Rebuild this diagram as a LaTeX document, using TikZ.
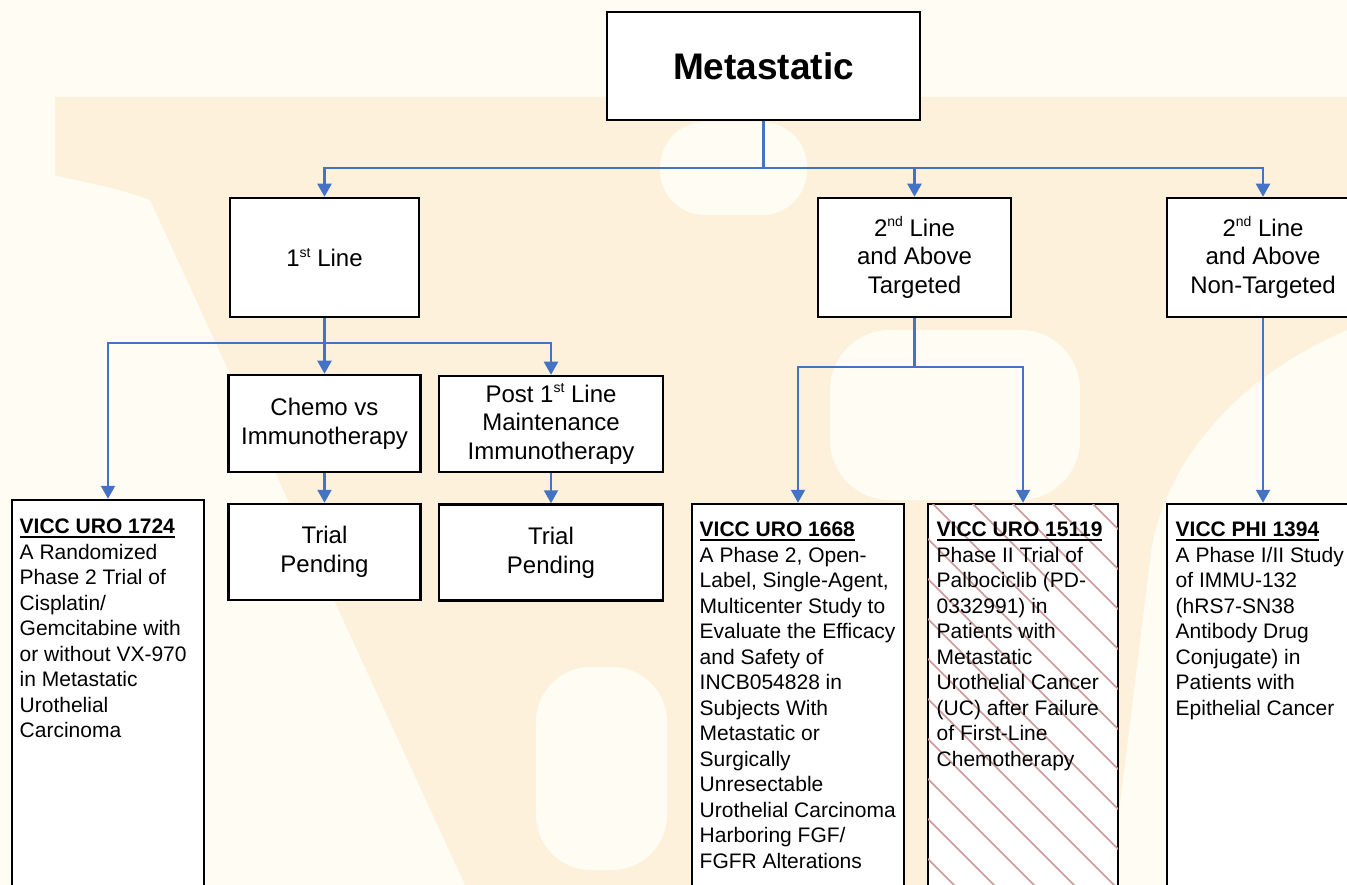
\documentclass[tikz,border=0pt]{standalone}
\usepackage{fontspec}
\setmainfont{Liberation Sans}
\usetikzlibrary{arrows.meta,calc}
\definecolor{connc}{HTML}{4472C4}
\definecolor{bgcream}{HTML}{FFFCF3}
\definecolor{wmark}{HTML}{FDF1DC}
\definecolor{hatchc}{HTML}{CC9A98}
\newcommand\myul[1]{\setbox0\hbox{#1}\rlap{\rule[-4.3pt]{\wd0}{1.8pt}}\box0}
\newcommand\sps[1]{\raisebox{9.5pt}{\fontsize{14}{14}\selectfont #1}}
\begin{document}
\begin{tikzpicture}[x=1pt,y=-1pt,
  bx/.style={draw=black,line width=2.5pt,fill=white,inner sep=0pt},
  catbox/.style={bx,align=center,font=\fontsize{24}{28.7}\selectfont},
  trialbox/.style={bx,minimum height=420pt},
  ttext/.style={anchor=north west,inner sep=0pt,align=left,font=\fontsize{21}{25.5}\selectfont},
  link/.style={draw=connc,line width=2.2pt,-{Triangle[length=13pt,width=14pt]}},
  seg/.style={draw=connc,line width=2.2pt},
  hatch/.style={draw=hatchc,line width=1.5pt}]
\useasboundingbox (0,0) rectangle (1347,885);
% background and watermark
\fill[bgcream] (0,0) rectangle (1347,885);
\fill[wmark] (55,97) -- (1347,97) -- (1347,330) .. controls (1230,380) and (1160,470) .. (1150,560) -- (1110,885) -- (465,885) -- (150,200) .. controls (110,185) and (70,180) .. (55,175) -- cycle;
\fill[bgcream,rounded corners=45pt] (660,122) -- (807,122) -- (807,215) -- (660,215) -- cycle;
\fill[bgcream,rounded corners=60pt] (830,330) -- (1080,330) -- (1080,500) -- (830,500) -- cycle;
\fill[bgcream,rounded corners=55pt] (536,667) -- (667,667) -- (667,870) -- (536,870) -- cycle;
% boxes
\node[catbox,minimum width=313pt,minimum height=108pt,font=\bfseries\fontsize{37}{44}\selectfont] (meta) at (763.5,66) {Metastatic};
\node[catbox,minimum width=189pt,minimum height=119pt] (l1) at (324.5,257.5) {1\sps{st} Line};
\node[catbox,minimum width=193pt,minimum height=119pt] (l2t) at (914.5,257.5) {2\sps{nd} Line\\and Above\\Targeted};
\node[catbox,minimum width=192pt,minimum height=119pt] (l2n) at (1263,257.5) {2\sps{nd} Line\\and Above\\Non-Targeted};
\node[catbox,minimum width=192pt,minimum height=97pt] (chemo) at (324.5,423.5) {Chemo vs\\Immunotherapy};
\node[catbox,minimum width=224pt,minimum height=96pt] (post) at (551,424) {Post 1\sps{st} Line\\Maintenance\\Immunotherapy};
\node[catbox,minimum width=192pt,minimum height=96pt] (tp1) at (324.5,552) {Trial\\Pending};
\node[catbox,minimum width=224pt,minimum height=96pt] (tp2) at (551,552.5) {Trial\\Pending};
\node[trialbox,minimum width=192pt] (u1724) at (108,710) {};
\node[trialbox,minimum width=212pt] (u1668) at (798,714) {};
\node[trialbox,minimum width=190pt] (u15119) at (1023,714) {};
\node[trialbox,minimum width=192pt] (p1394) at (1263,714) {};
% hatching
\begin{scope}
\clip ($(u15119.north west)+(1.25,1.25)$) rectangle ($(u15119.south east)+(-1.25,-1.25)$);
\foreach \k in {-12,...,6} \draw[hatch] ($(u15119.north west)+(\k*40+5,0)$) -- ++(600,600);
\end{scope}
% trial texts
\node[ttext] (u1724t) at (19.5,519) {\myul{\textbf{VICC URO 1724}}\\A Randomized\\Phase 2 Trial of\\Cisplatin/\\Gemcitabine with\\or without VX-970\\in Metastatic\\Urothelial\\Carcinoma};
\node[ttext] (u1668t) at (699.5,522) {\myul{\textbf{VICC URO 1668}}\\A Phase 2, Open-\\Label, Single-Agent,\\Multicenter Study to\\Evaluate the Efficacy\\and Safety of\\INCB054828 in\\Subjects With\\Metastatic or\\Surgically\\Unresectable\\Urothelial Carcinoma\\Harboring FGF/\\FGFR Alterations};
\node[ttext] (u15119t) at (936.5,522) {\myul{\textbf{VICC URO 15119}}\\Phase II Trial of\\Palbociclib (PD-\\0332991) in\\Patients with\\Metastatic\\Urothelial Cancer\\(UC) after Failure\\of First-Line\\Chemotherapy};
\node[ttext] (p1394t) at (1175.5,522) {\myul{\textbf{VICC PHI 1394}}\\A Phase I/II Study\\of IMMU-132\\(hRS7-SN38\\Antibody Drug\\Conjugate) in\\Patients with\\Epithelial Cancer};
% connectors
\draw[seg] (meta.south) -- ++(0,47) coordinate (bt);
\draw[link] (bt) -| (l1.north);
\draw[link] (bt) -| (l2t.north);
\draw[link] (bt) -| (l2n.north);
\draw[seg] (l1.south) -- ++(0,25) coordinate (b1);
\draw[link] (b1) -- (chemo.north);
\draw[link] (b1) -| (post.north);
\draw[link] (b1) -| (u1724.north);
\draw[link] (chemo.south) -- (tp1.north);
\draw[link] (post.south) -- (tp2.north);
\draw[seg] (l2t.south) -- ++(0,49) coordinate (b2);
\draw[link] (b2) -| (u1668.north);
\draw[link] (b2) -| (u15119.north);
\draw[link] (l2n.south) -- (p1394.north);
\end{tikzpicture}
\end{document}
